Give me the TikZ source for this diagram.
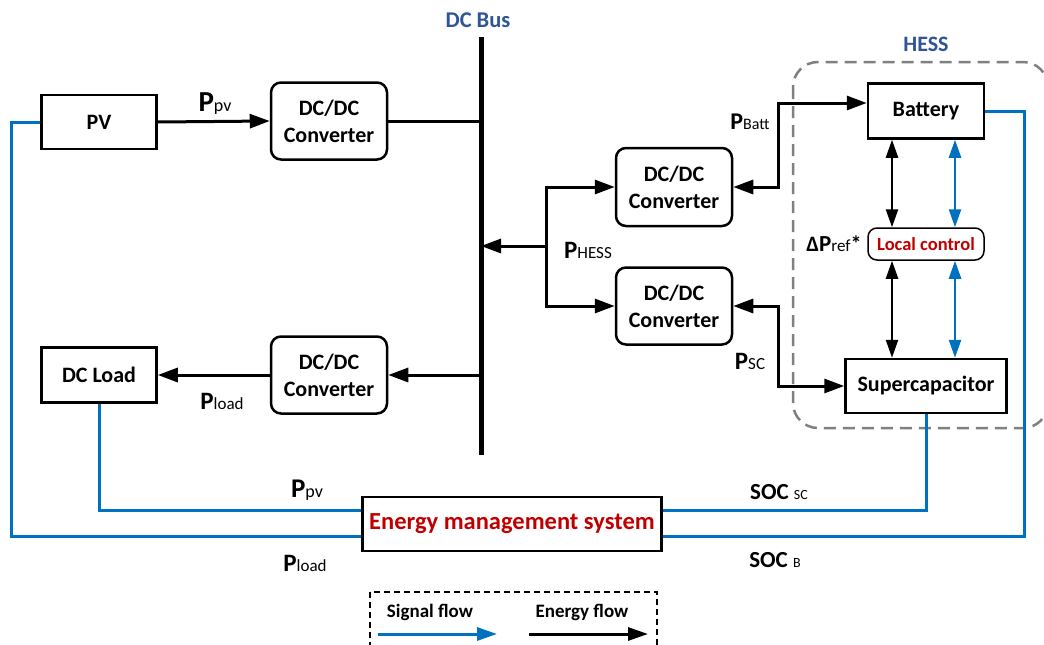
\documentclass[tikz,border=0pt]{standalone}
\usepackage{fontspec}
\setmainfont{Carlito}
\usetikzlibrary{arrows.meta}
\definecolor{sigblue}{HTML}{0070C0}
\definecolor{emsred}{HTML}{C00000}
\definecolor{labblue}{HTML}{2F5597}
\newcommand{\pwr}[3]{{\fontsize{#1}{#1}\selectfont P}{\fontsize{#2}{#2}\selectfont\mdseries #3}}

\begin{document}
\begin{tikzpicture}[x=1pt,y=-1pt,
	every node/.style={font=\bfseries\fontsize{22}{27}\selectfont},
	blk/.style={draw,line width=2.5pt,minimum width=115pt,minimum height=54pt,inner sep=0pt},
	conv/.style={blk,rounded corners=10pt,minimum width=116pt,minimum height=77pt,align=center},
	wire/.style={line width=3pt},
	eflow/.style={wire,-{Triangle[length=20pt,width=14pt]}},
	eboth/.style={wire,{Triangle[length=20pt,width=14pt]}-{Triangle[length=20pt,width=14pt]}},
	vboth/.style={line width=2.5pt,{Triangle[length=18pt,width=12pt]}-{Triangle[length=18pt,width=12pt]}},
	sig/.style={draw=sigblue,line width=3pt},
	sboth/.style={sigblue,line width=2.5pt,{Triangle[length=18pt,width=12pt]}-{Triangle[length=18pt,width=12pt]}}]
	\useasboundingbox (0,0) rectangle (1044,645);
	% HESS area
	\draw[gray,dashed,dash pattern=on 12pt off 7pt,line width=2.5pt,rounded corners=25pt] (793,62) rectangle (1048,428);
	\node[text=labblue,font=\bfseries\fontsize{22}{22}\selectfont] (hesslab) at (926,44) {HESS};
	% DC bus
	\coordinate (busT) at (481,37);
	\coordinate (busB) at (481,455);
	\draw[line width=5pt] (busT) -- (busB);
	\node[text=labblue,font=\bfseries\fontsize{22.5}{22.5}\selectfont] (buslab) at (478,20) {DC Bus};
	% blocks
	\node[blk] (pv) at (99,122) {PV};
	\node[conv] (cpv) at (329,121) {DC/DC\\Converter};
	\node[blk,minimum height=55pt] (load) at (99,375) {DC Load};
	\node[conv] (cload) at (329,375) {DC/DC\\Converter};
	\node[conv,minimum height=78pt] (cbat) at (674,187) {DC/DC\\Converter};
	\node[conv] (csc) at (674,306) {DC/DC\\Converter};
	\node[blk,minimum width=116pt,minimum height=55pt] (bat) at (926,111) {Battery};
	\node[blk,minimum width=161pt] (sc) at (926,386) {Supercapacitor};
	\node[draw,line width=1.5pt,rounded corners=9pt,minimum width=116pt,minimum height=32pt,inner sep=0pt,text=emsred,font=\bfseries\fontsize{18.5}{18.5}\selectfont] (lc) at (926,244) {Local control};
	\node[blk,minimum width=299pt,text=emsred,font=\bfseries\fontsize{24.5}{24.5}\selectfont] (ems) at (512,524) {Energy management system};
	% energy flow
	\draw[eflow] (pv.east) -- (cpv.west);
	\draw[wire] (cpv.east) -- (cpv.east -| busT);
	\draw[eflow] (cload.east -| busT) -- (cload.east);
	\draw[eflow] (cload.west) -- (load.east);
	\coordinate (split) at (546,246);
	\draw[eflow] (split) -- (split -| busT);
	\draw[eflow] (split) |- (cbat.west);
	\draw[eflow] (split) |- (csc.west);
	\draw[eboth] (cbat.east) -- ++(45,0) |- ([yshift=8pt]bat.west);
	\draw[eboth] (csc.east) -- ++(45,0) |- (sc.west);
	\draw[vboth] ([xshift=-34pt]bat.south) -- ([xshift=-34pt]lc.north);
	\draw[vboth] ([xshift=-34pt]lc.south) -- ([xshift=-34pt]sc.north);
	% signal flow
	\draw[sboth] ([xshift=29pt]bat.south) -- ([xshift=29pt]lc.north);
	\draw[sboth] ([xshift=29pt]lc.south) -- ([xshift=29pt]sc.north);
	\draw[sig] (load.south) |- ([yshift=14pt]ems.west);
	\draw[sig] (pv.west) -- ++(-29,0) |- ([yshift=-12pt]ems.west);
	\draw[sig] (sc.south) |- ([yshift=14pt]ems.east);
	\draw[sig] (bat.east) -- ++(39,0) |- ([yshift=-12pt]ems.east);
	% labels
	\node (lppv) at (215,104) {\pwr{29}{18}{pv}};
	\node (lpload) at (222,401) {\pwr{25}{17}{load}};
	\node (lphess) at (588,250) {\pwr{25}{17}{HESS}};
	\node (lpbatt) at (750,122) {\pwr{24}{16}{Batt}};
	\node (lpsc) at (750,361) {\pwr{25}{17}{SC}};
	\node (ldp) at (834,244) {Δ\pwr{23}{17}{ref}*};
	\node (lppv2) at (307,490) {\pwr{27}{18}{pv}};
	\node (lpload2) at (305,563) {\pwr{25}{17}{load}};
	\node[font=\bfseries\fontsize{23}{23}\selectfont] (lsocsc) at (779,492) {SOC {\fontsize{14}{14}\selectfont\mdseries SC}};
	\node[font=\bfseries\fontsize{23}{23}\selectfont] (lsocb) at (775,560) {SOC {\fontsize{14}{14}\selectfont\mdseries B}};
	% legend
	\draw[dash pattern=on 6pt off 4pt,line width=1.5pt] (370,592) rectangle (657,660);
	\node[font=\bfseries\fontsize{19}{19}\selectfont] (lsig) at (430,612) {Signal flow};
	\node[font=\bfseries\fontsize{19}{19}\selectfont] (len) at (582,612) {Energy flow};
	\coordinate (sigA) at (378,634);
	\coordinate (sigB) at (497,634);
	\coordinate (enA) at (529,634);
	\coordinate (enB) at (648,634);
	\draw[sigblue,line width=3pt,-{Triangle[length=20pt,width=13pt]}] (sigA) -- (sigB);
	\draw[line width=3pt,-{Triangle[length=20pt,width=13pt]}] (enA) -- (enB);
\end{tikzpicture}
\end{document}
